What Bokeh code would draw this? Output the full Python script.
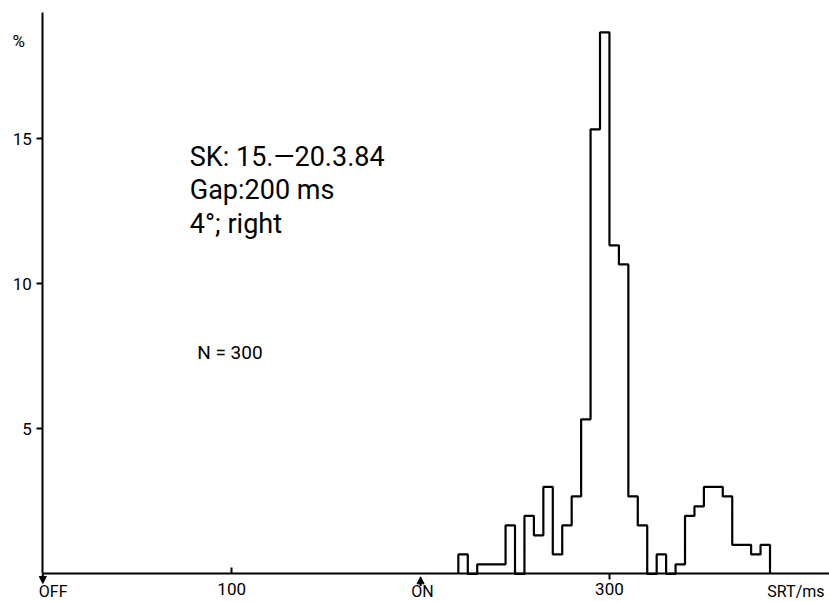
from bokeh.plotting import figure
from bokeh.models import (Range1d, LinearAxis, FixedTicker, Label, Arrow,
                          NormalHead)
from bokeh.embed import file_html
from bokeh.resources import INLINE

# ---------------- data ----------------
bin_left_ms = [220, 225, 230, 235, 240, 245, 250, 255, 260, 265, 270,
               275, 280, 285, 290, 295, 300, 305, 310, 315, 320, 325,
               330, 335, 340, 345, 350, 355, 360, 365, 370, 375, 380]
bin_width_ms = 5
percent = [0.67, 0.0, 0.33, 0.33, 0.33, 1.67, 0.0, 2.0, 1.33, 3.0, 0.67,
           1.67, 2.67, 5.33, 15.33, 18.67, 11.33, 10.67, 2.67, 1.67, 0.0, 0.67,
           0.0, 0.33, 2.0, 2.33, 3.0, 3.0, 2.67, 1.0, 1.0, 0.67, 1.0]

y_ticks = [5, 10, 15]
x_ticks_up = [100]
x_ticks_down = [300]
event_ms = [0, 200]
event_labels = ["OFF", "ON"]

info_lines = ["SK: 15.\u201420.3.84", "Gap:200 ms", "4\u00b0; right"]
n_label = "N = 300"

FONT = "Roboto"
INK = "black"

# ---------------- figure ----------------
p = figure(width=829, height=602, output_backend="svg", toolbar_location=None,
           x_range=Range1d(-22.4, 416.5), y_range=Range1d(-0.986, 19.77),
           x_axis_location=None, y_axis_location=None,
           min_border_left=0, min_border_right=0, min_border_top=0,
           min_border_bottom=0, outline_line_color=None,
           background_fill_color="white", border_fill_color="white")
p.grid.visible = False

def style_axis(ax, tick_in, tick_out, standoff):
    ax.major_tick_line_width = 2
    ax.major_tick_line_color = INK
    ax.major_tick_in = tick_in
    ax.major_tick_out = tick_out
    ax.minor_tick_line_color = None
    ax.major_label_text_font = FONT
    ax.major_label_text_font_size = "17px"
    ax.major_label_text_color = INK
    ax.major_label_standoff = standoff

# y axis at x = 0
ya = LinearAxis(fixed_location=0, ticker=FixedTicker(ticks=y_ticks),
                bounds=(0, 19.36))
ya.axis_line_width = 2
ya.axis_line_color = INK
style_axis(ya, 0, 6, 5)
p.add_layout(ya, "left")

# x axis at y = 0
xa = LinearAxis(fixed_location=0, ticker=FixedTicker(ticks=x_ticks_down),
                bounds=(0, 416.5))
xa.axis_line_width = 2
xa.axis_line_color = INK
style_axis(xa, 0, 6, 3)
p.add_layout(xa, "below")

xb = LinearAxis(fixed_location=0, ticker=FixedTicker(ticks=x_ticks_up))
xb.axis_line_color = None
style_axis(xb, 6, 0, 9)
p.add_layout(xb, "below")

# histogram outline
xs = [bin_left_ms[0]] + bin_left_ms + [bin_left_ms[-1] + bin_width_ms]
ys = [0] + percent + [0]
p.step(xs, ys, mode="after", line_color=INK, line_width=2.2)

# OFF / ON events with arrows
p.add_layout(Arrow(x_start=event_ms[0], y_start=0, x_end=event_ms[0], y_end=-0.33,
                   line_width=2, line_color=INK,
                   end=NormalHead(size=7, fill_color=INK, line_color=INK)))
p.add_layout(Arrow(x_start=event_ms[1], y_start=-0.42, x_end=event_ms[1], y_end=-0.1,
                   line_width=2, line_color=INK,
                   end=NormalHead(size=7, fill_color=INK, line_color=INK)))

def add_text(x, y, txt, size, align="left", x_offset=0):
    p.add_layout(Label(x=x, y=y, text=txt, x_offset=x_offset,
                       text_align=align, text_baseline="alphabetic",
                       text_font=FONT, text_font_size=size, text_color=INK))

add_text(event_ms[0], -0.61, event_labels[0], "16px", "left", -4)
add_text(event_ms[1], -0.61, event_labels[1], "16px", "center", 2)
add_text(383.6, -0.61, "SRT/ms", "16px")

# y unit
add_text(-16, 18.39, "%", "17px")

# info block
for txt, yy in zip(info_lines, [14.39, 13.25, 12.08]):
    add_text(77.8, yy, txt, "27px")
add_text(81.7, 7.62, n_label, "19px")

open("out.html", "w").write(file_html(p, INLINE))
